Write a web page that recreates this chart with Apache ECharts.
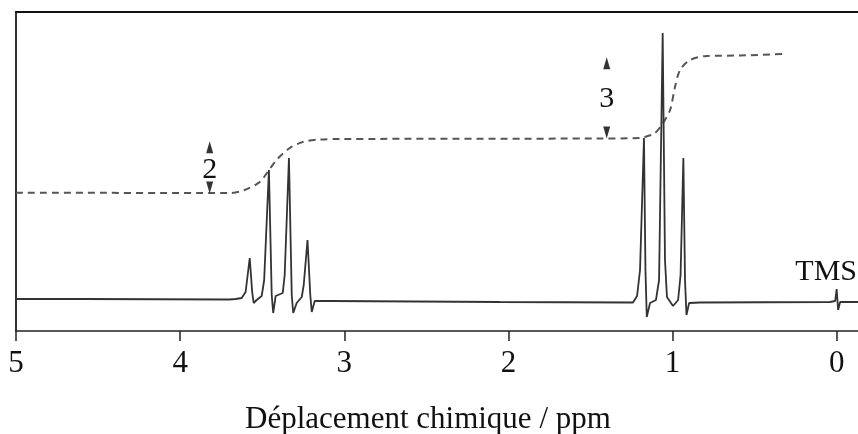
<!DOCTYPE html>
<html>
<head>
<meta charset="utf-8">
<script src="https://cdn.jsdelivr.net/npm/echarts@6/dist/echarts.min.js"></script>
<style>html,body{margin:0;padding:0;background:#fff}#c{width:858px;height:434px}</style>
</head>
<body>
<div id="c"></div>
<script>
// Chemical shift tick labels (ppm)
const tickValues = [0, 1, 2, 3, 4, 5];

// NMR spectrum trace: [ppm, intensity]
const spectrumPpm = [5.0, 4.59, 3.70, 3.662, 3.625, 3.601, 3.576, 3.561, 3.552, 3.534, 3.503, 3.488, 3.459, 3.442, 3.433, 3.418, 3.375, 3.363, 3.337, 3.320, 3.311, 3.290, 3.259, 3.247, 3.224, 3.207, 3.198, 3.180, 3.088, 2.052, 1.259, 1.241, 1.216, 1.198, 1.174, 1.165, 1.157, 1.137, 1.101, 1.082, 1.060, 1.046, 1.034, 0.997, 0.966, 0.951, 0.934, 0.924, 0.915, 0.899, 0.832, 0.040, 0.009, 0.0, -0.009, -0.021, -0.13];
const spectrumInt = [1, 1, 0.5, 1, 2, 8, 42, 8, -3, 0, 4, 20, 130, 5, -13, 4, 7, 25, 142, 5, -13, -3, 3, 15, 60, 5, -12, -1, -1, -2, -2.5, -2.5, 4, 30, 162, 30, -17, -3, 0, 20, 267, 40, 3, -6, 0, 25, 142, 20, -15, -3, -2.5, -2, -1, 11, -10, -2, -2];

// Integration curve (dashed): [ppm, value]
const integralPpm = [5.0, 3.70, 3.607, 3.515, 3.467, 3.413, 3.332, 3.253, 3.149, 3.027, 1.442, 1.198, 1.168, 1.107, 1.058, 1.015, 0.985, 0.954, 0.893, 0.791, 0.588, 0.314];
const integralVal = [107.3, 107, 110, 118, 128, 140, 152, 158, 160.5, 161, 161.5, 162, 163, 167, 177, 190, 213, 230, 240, 244, 244.5, 246];

// Integration step annotations
const stepLabels = ['2', '3'];
const stepPpm = [3.82, 1.401];
const stepLabelVal = [130, 201];
const arrowUpVal = [152.7, 236.7];
const arrowDownVal = [112.5, 167.5];

// Reference peak label
const refLabel = 'TMS';
const refPpm = 0.064;
const refVal = 28;

const axisTitle = 'Déplacement chimique / ppm';

const serif = '"Liberation Serif", "Times New Roman", serif';
const spectrum = spectrumPpm.map((p, i) => [p, spectrumInt[i]]);
const integral = integralPpm.map((p, i) => [p, integralVal[i]]);
const arrows = [];
stepPpm.forEach((p, i) => {
  arrows.push({value: [p, arrowUpVal[i]], symbolRotate: 0});
  arrows.push({value: [p, arrowDownVal[i]], symbolRotate: 180});
});
const labels = stepPpm.map((p, i) => ({value: [p, stepLabelVal[i]], name: stepLabels[i]}));
labels.push({value: [refPpm, refVal], name: refLabel});

const chart = echarts.init(document.getElementById('c'), null, {renderer: 'canvas'});
chart.setOption({
  animation: false,
  backgroundColor: '#fff',
  grid: {left: 16, right: 0, top: 12, bottom: 103, containLabel: false},
  xAxis: [{
    type: 'value', inverse: true, min: -0.13, max: 5,
    axisLine: {show: true, onZero: false, lineStyle: {color: '#222', width: 1.5}},
    axisTick: {show: true, inside: false, length: 10, customValues: tickValues, lineStyle: {color: '#222', width: 1.5}},
    axisLabel: {show: true, customValues: tickValues, margin: 17, fontSize: 31, fontFamily: serif, color: '#111'},
    splitLine: {show: false}
  }, {
    type: 'value', inverse: true, min: -0.13, max: 5, position: 'top',
    axisLine: {show: true, onZero: false, lineStyle: {color: '#111', width: 2}},
    axisTick: {show: false}, axisLabel: {show: false}, splitLine: {show: false}
  }],
  yAxis: {
    type: 'value', min: -31, max: 288,
    axisLine: {show: true, onZero: false, lineStyle: {color: '#333', width: 2}},
    axisTick: {show: false}, axisLabel: {show: false}, splitLine: {show: false}
  },
  graphic: [{
    type: 'text', left: 245, top: 404,
    style: {text: axisTitle, fontSize: 31, fontFamily: serif, fill: '#111'}
  }],
  series: [{
    type: 'line', data: spectrum, showSymbol: false, symbol: 'none',
    lineStyle: {color: '#333', width: 1.8}, z: 3
  }, {
    type: 'line', data: integral, showSymbol: false, symbol: 'none', smooth: 0.3,
    lineStyle: {color: '#555', width: 2, type: [7, 5]}, z: 2
  }, {
    type: 'scatter', data: arrows, symbol: 'triangle', symbolSize: [7, 12],
    itemStyle: {color: '#333', opacity: 1}, z: 4
  }, {
    type: 'scatter', data: labels, symbolSize: 0,
    itemStyle: {opacity: 1},
    label: {show: true, position: 'inside', formatter: p => p.name, fontSize: 30, fontFamily: serif, color: '#111', textBorderWidth: 0, opacity: 1},
    z: 5
  }]
});
</script>
</body>
</html>
